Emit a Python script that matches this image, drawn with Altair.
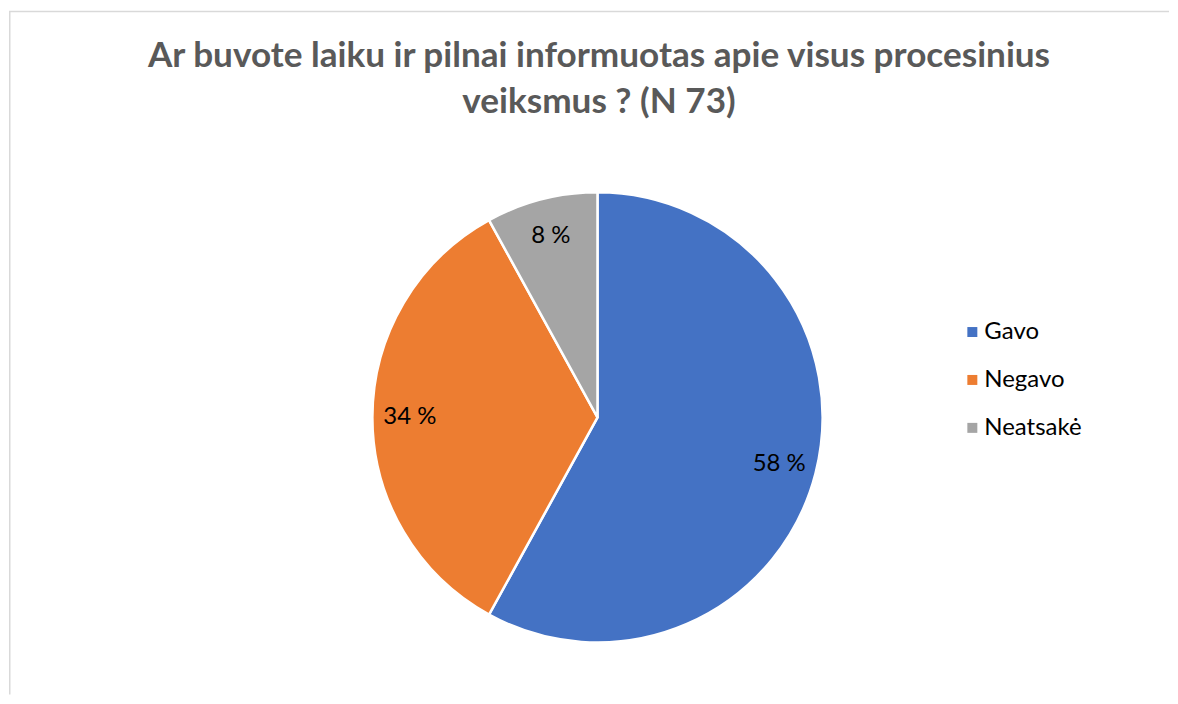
import altair as alt
import pandas as pd

categories = ["Gavo", "Negavo", "Neatsakė"]
values = [58, 34, 8]
labels = ["58 %", "34 %", "8 %"]
colors = ["#4472C4", "#ED7D31", "#A5A5A5"]
title_lines = ["Ar buvote laiku ir pilnai informuotas apie visus procesinius", "veiksmus ? (N 73)"]

df = pd.DataFrame({
    "kategorija": categories,
    "reiksme": values,
    "etikete": labels,
    "eile": list(range(len(categories))),
})

CX, CY = 589.5, 409.5
R = 225.5
FONT = "Lato"

base = alt.Chart(df).encode(
    theta=alt.Theta("reiksme:Q", stack=True),
    order=alt.Order("eile:Q"),
    x=alt.value(CX),
    y=alt.value(CY),
)

pie = base.mark_arc(outerRadius=R, stroke="white", strokeWidth=2.5).encode(
    color=alt.Color(
        "kategorija:N",
        scale=alt.Scale(domain=categories, range=colors),
        legend=alt.Legend(
            title=None,
            orient="none",
            legendX=953,
            legendY=312,
            symbolType="square",
            symbolSize=100,
            symbolStrokeWidth=0,
            labelFont=FONT,
            labelFontSize=24,
            labelColor="#000000",
            labelOffset=0,
            rowPadding=24,
            padding=0,
        ),
    )
)

text = base.mark_text(radius=188, font=FONT, fontSize=24, color="#000000").encode(
    text="etikete:N"
)

border_df = pd.DataFrame({"k": [0]})
top_rule = alt.Chart(border_df).mark_rule(color="#d9d9d9", strokeWidth=1.5).encode(
    x=alt.value(0), x2=alt.value(1162), y=alt.value(3)
)
left_rule = alt.Chart(border_df).mark_rule(color="#d9d9d9", strokeWidth=1.5).encode(
    x=alt.value(0.75), y=alt.value(3), y2=alt.value(687)
)

chart = alt.layer(top_rule, left_rule, pie, text).properties(
    width=1162,
    height=688,
    padding=0,
    background="white",
    title=alt.TitleParams(
        text=title_lines,
        font=FONT,
        fontSize=35.2,
        fontWeight="bold",
        color="#595959",
        anchor="middle",
        lineHeight=46,
        offset=-112,
        dx=10,
        frame="group",
    ),
).configure_view(stroke=None)

chart.save("out.html", embed_options={"renderer": "svg", "actions": False})
